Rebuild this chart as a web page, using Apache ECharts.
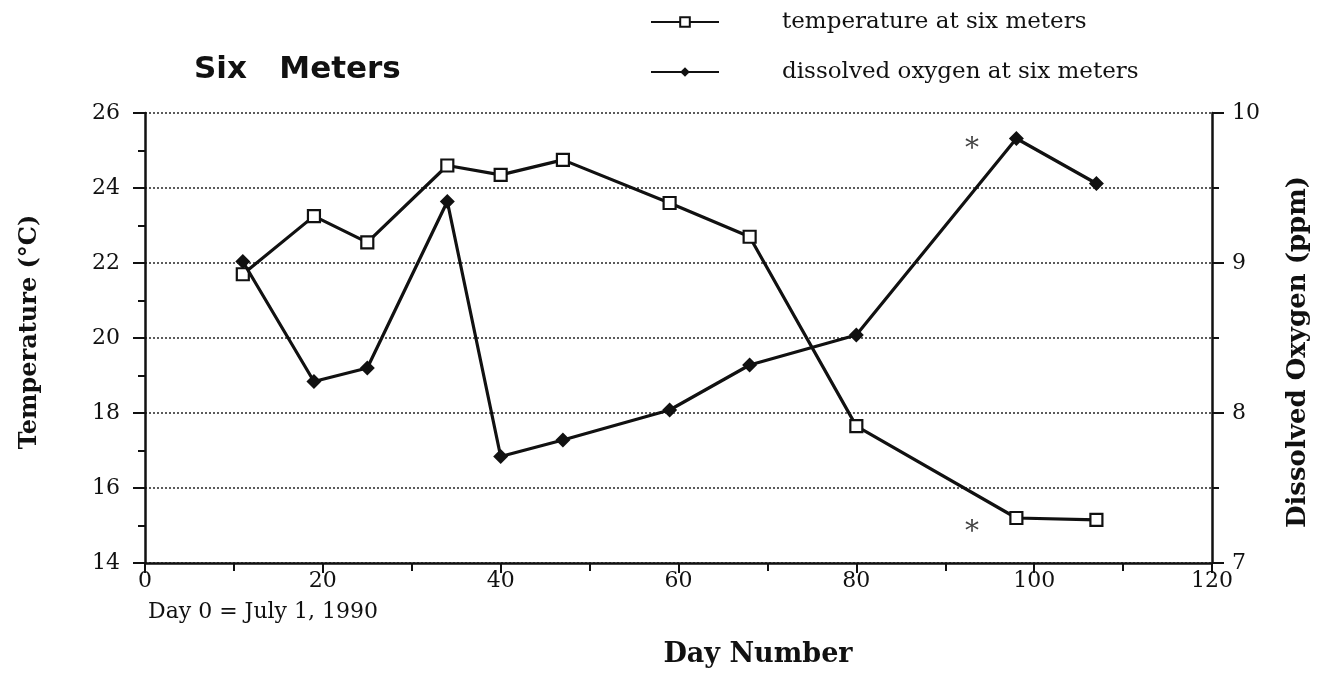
<!DOCTYPE html>
<html>
<head>
<meta charset="utf-8">
<script src="https://cdn.jsdelivr.net/npm/echarts@6/dist/echarts.min.js"></script>
<style>
  html, body { margin: 0; padding: 0; background: #ffffff; }
  #chart { width: 1327px; height: 673px; }
</style>
</head>
<body>
<div id="chart"></div>
<script>
// Sampling days (Day 0 = July 1, 1990)
const days = [11, 19, 25, 34, 40, 47, 59, 68, 80, 98, 107];
// Water temperature at six meters (°C)
const temperature = [21.7, 23.25, 22.55, 24.6, 24.35, 24.75, 23.6, 22.7, 17.65, 15.2, 15.15];
// Dissolved oxygen at six meters (ppm)
const oxygen = [9.01, 8.21, 8.3, 9.41, 7.71, 7.82, 8.02, 8.32, 8.52, 9.83, 9.53];
// Asterisk notes, placed on the temperature scale
const noteDays = [93, 93];
const noteTemps = [25.2, 15.0];

const serif = 'DejaVu Serif';
const ink = '#111111';

const chart = echarts.init(document.getElementById('chart'), null, { renderer: 'canvas' });

const option = {
  animation: false,
  backgroundColor: '#ffffff',
  title: {
    text: 'Six   Meters',
    left: 189,
    top: 49,
    textStyle: { fontFamily: 'DejaVu Sans', fontWeight: 'bold', fontSize: 31, color: ink }
  },
  legend: {
    orient: 'vertical',
    left: 645,
    top: 4,
    itemWidth: 68,
    itemHeight: 12,
    itemGap: 24,
    data: ['temperature at six meters', 'dissolved oxygen at six meters'],
    textStyle: { fontFamily: serif, fontSize: 23, color: ink, lineHeight: 26, padding: [0, 0, 0, 58] }
  },
  grid: { left: 145, right: 115, top: 113, bottom: 110 },
  xAxis: {
    type: 'value',
    min: 0,
    max: 120,
    interval: 20,
    axisLine: { lineStyle: { color: ink, width: 2.5 } },
    axisTick: { length: 10, lineStyle: { color: ink, width: 2 } },
    minorTick: { show: true, splitNumber: 2, length: 8, lineStyle: { color: ink, width: 2 } },
    splitLine: { show: false },
    axisLabel: { margin: 7, fontFamily: serif, fontSize: 22, color: ink }
  },
  yAxis: [
    {
      type: 'value',
      position: 'left',
      min: 14,
      max: 26,
      interval: 2,
      axisLine: { show: true, lineStyle: { color: ink, width: 2.5 } },
      axisTick: { show: true, length: 12, lineStyle: { color: ink, width: 2 } },
      minorTick: { show: true, splitNumber: 2, length: 7, lineStyle: { color: ink, width: 2 } },
      splitLine: { show: true, lineStyle: { type: [2, 2], color: '#333', width: 1.6 } },
      axisLabel: { margin: 25, fontFamily: serif, fontSize: 22, color: ink }
    },
    {
      type: 'value',
      position: 'right',
      min: 7,
      max: 10,
      interval: 1,
      axisLine: { show: true, lineStyle: { color: ink, width: 2.5 } },
      axisTick: { show: true, length: 12, lineStyle: { color: ink, width: 2 } },
      minorTick: { show: true, splitNumber: 2, length: 7, lineStyle: { color: ink, width: 2 } },
      splitLine: { show: false },
      axisLabel: { margin: 20, fontFamily: serif, fontSize: 22, color: ink }
    }
  ],
  graphic: [
    {
      type: 'text',
      x: 30, y: 332, rotation: Math.PI / 2,
      style: { text: 'Temperature (°C)', fontFamily: serif, fontWeight: 'bold', fontSize: 24, fill: ink, align: 'center', verticalAlign: 'middle' }
    },
    {
      type: 'text',
      x: 1298, y: 352, rotation: Math.PI / 2,
      style: { text: 'Dissolved Oxygen (ppm)', fontFamily: serif, fontWeight: 'bold', fontSize: 26, fill: ink, align: 'center', verticalAlign: 'middle' }
    },
    {
      type: 'text',
      x: 148, y: 612,
      style: { text: 'Day 0 = July 1, 1990', fontFamily: serif, fontSize: 22, fill: ink, align: 'left', verticalAlign: 'middle' }
    },
    {
      type: 'text',
      x: 758, y: 655,
      style: { text: 'Day Number', fontFamily: serif, fontWeight: 'bold', fontSize: 27, fill: ink, align: 'center', verticalAlign: 'middle' }
    }
  ],
  series: [
    {
      name: 'temperature at six meters',
      type: 'line',
      yAxisIndex: 0,
      data: days.map((d, i) => [d, temperature[i]]),
      symbol: 'rect',
      symbolSize: 12,
      lineStyle: { color: ink, width: 3.2 },
      itemStyle: { color: '#ffffff', borderColor: ink, borderWidth: 2.2 },
      z: 3
    },
    {
      name: 'dissolved oxygen at six meters',
      type: 'line',
      yAxisIndex: 1,
      data: days.map((d, i) => [d, oxygen[i]]),
      symbol: 'diamond',
      symbolSize: 15,
      lineStyle: { color: ink, width: 3.2 },
      itemStyle: { color: ink },
      z: 4
    },
    {
      name: 'notes',
      type: 'scatter',
      yAxisIndex: 0,
      data: noteDays.map((d, i) => [d, noteTemps[i]]),
      symbolSize: 1,
      itemStyle: { color: 'rgba(0,0,0,0)' },
      label: {
        show: true,
        position: 'inside',
        formatter: '*',
        fontFamily: serif,
        fontSize: 28,
        color: ink,
        offset: [0, 7]
      },
      silent: true
    }
  ]
};

chart.setOption(option);
</script>
</body>
</html>
